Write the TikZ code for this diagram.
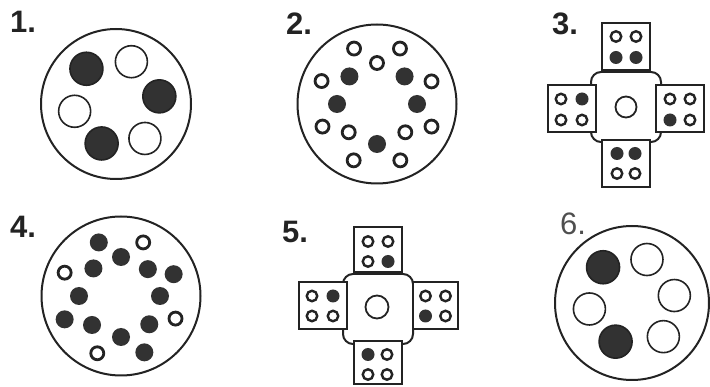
\documentclass[tikz,border=0pt]{standalone}
\usepackage{fontspec}
\setmainfont{Liberation Sans}
\usetikzlibrary{positioning,calc}
\definecolor{Ink}{RGB}{35,35,35}
\definecolor{PinFill}{RGB}{50,50,50}
\tikzset{
  panellabel/.style={font=\fontsize{31}{31}\selectfont\bfseries,text=Ink,inner sep=0pt,anchor=base west},
  thinlabel/.style={font=\fontsize{31}{31}\selectfont,text=Ink!80,inner sep=0pt,anchor=base west},
  body/.style={circle,draw=Ink,line width=2pt,fill=white,inner sep=0pt},
  bigopen/.style={circle,draw=Ink,line width=1.6pt,minimum size=32pt,inner sep=0pt},
  bigfull/.style={circle,draw=Ink,fill=PinFill,line width=1.6pt,minimum size=33pt,inner sep=0pt},
  pinopen/.style={circle,draw=Ink,line width=2.8pt,minimum size=13pt,inner sep=0pt},
  pinfull/.style={circle,fill=PinFill,minimum size=18pt,inner sep=0pt},
  hub/.style={draw=Ink,line width=2pt,fill=white,rounded corners=10pt,minimum size=70pt,inner sep=0pt},
  arm/.style={draw=Ink,line width=2pt,fill=white,minimum width=48pt,minimum height=47pt,inner sep=0pt},
  armopen/.style={circle,draw=Ink,line width=2.4pt,minimum size=10.5pt,inner sep=0pt},
  armfull/.style={circle,fill=PinFill,minimum size=13pt,inner sep=0pt},
  core/.style={circle,draw=Ink,line width=1.8pt,minimum size=21pt,inner sep=0pt}
}
\begin{document}
\begin{tikzpicture}[x=1pt,y=-1pt]
\useasboundingbox (0,0) rectangle (710,387);

% labels
\node[panellabel] (lab1) at (10,33) {1.};
\node[panellabel] (lab2) at (286,35) {2.};
\node[panellabel] (lab3) at (552,35) {3.};
\node[panellabel] (lab4) at (10,238) {4.};
\node[panellabel] (lab5) at (282,243) {5.};
\node[thinlabel] (lab6) at (560,235) {6.};

% panel 1
\node[body,minimum size=150pt] (body1) at (116,104) {};
\node[bigopen] (p1a) at ($(body1)+(70:45pt)$) {};
\node[bigfull] (p1b) at ($(body1)+(10:44pt)$) {};
\node[bigfull] (p1c) at ($(body1)+(130:46pt)$) {};
\node[bigopen] (p1d) at ($(body1)+(190:42pt)$) {};
\node[bigfull] (p1e) at ($(body1)+(250:42pt)$) {};
\node[bigopen] (p1f) at ($(body1)+(310:45pt)$) {};

% panel 2
\node[body,minimum size=159pt] (body2) at (377,104) {};
\node[pinfull] (p2a) at ($(body2)+(0:40pt)$) {};   \node[pinfull] (p2b) at ($(body2)+(45:39pt)$) {};
\node[pinopen] (p2c) at ($(body2)+(90:41pt)$) {};  \node[pinfull] (p2d) at ($(body2)+(135:39pt)$) {};
\node[pinfull] (p2e) at ($(body2)+(180:40pt)$) {}; \node[pinopen] (p2f) at ($(body2)+(225:40pt)$) {};
\node[pinfull] (p2g) at ($(body2)+(270:40pt)$) {}; \node[pinopen] (p2h) at ($(body2)+(315:40pt)$) {};
\node[pinopen] (p2i) at ($(body2)+(22.5:59pt)$) {};  \node[pinopen] (p2j) at ($(body2)+(67.5:60pt)$) {};
\node[pinopen] (p2k) at ($(body2)+(112.5:60pt)$) {}; \node[pinopen] (p2l) at ($(body2)+(157.5:60pt)$) {};
\node[pinopen] (p2m) at ($(body2)+(202.5:59pt)$) {}; \node[pinopen] (p2n) at ($(body2)+(247.5:61pt)$) {};
\node[pinopen] (p2o) at ($(body2)+(292.5:61pt)$) {}; \node[pinopen] (p2p) at ($(body2)+(337.5:59pt)$) {};

% panel 3
\node[hub] (hub3) at (626,107) {};
\node[arm,above=0pt of hub3] (top3) {};
\node[arm,left=-7pt of hub3,yshift=-2pt] (left3) {};
\node[arm,right=-7pt of hub3,yshift=-2pt] (right3) {};
\node[arm,below=-4pt of hub3] (bot3) {};
\node[core] (core3) at (hub3) {};
\node[armopen] (t3a) at ($(top3)+(-10,-10)$) {};   \node[armopen] (t3b) at ($(top3)+(10,-10)$) {};
\node[armfull] (t3c) at ($(top3)+(-10,11)$) {};    \node[armfull] (t3d) at ($(top3)+(10,11)$) {};
\node[armopen] (l3a) at ($(left3)+(-11,-10)$) {};  \node[armfull] (l3b) at ($(left3)+(10,-10)$) {};
\node[armopen] (l3c) at ($(left3)+(-11,11)$) {};   \node[armopen] (l3d) at ($(left3)+(10,11)$) {};
\node[armopen] (r3a) at ($(right3)+(-10,-10)$) {}; \node[armopen] (r3b) at ($(right3)+(10,-10)$) {};
\node[armfull] (r3c) at ($(right3)+(-10,11)$) {};  \node[armopen] (r3d) at ($(right3)+(10,11)$) {};
\node[armfull] (b3a) at ($(bot3)+(-9,-10)$) {};    \node[armfull] (b3b) at ($(bot3)+(9,-10)$) {};
\node[armopen] (b3c) at ($(bot3)+(-9,10)$) {};     \node[armopen] (b3d) at ($(bot3)+(9,10)$) {};

% panel 4
\node[body,minimum size=159pt] (body4) at (121,296) {};
\node[pinfull] (p4a) at ($(body4)+(0:39pt)$) {};   \node[pinfull] (p4b) at ($(body4)+(45:38pt)$) {};
\node[pinfull] (p4c) at ($(body4)+(90:39pt)$) {};  \node[pinfull] (p4d) at ($(body4)+(135:39pt)$) {};
\node[pinfull] (p4e) at ($(body4)+(180:42pt)$) {}; \node[pinfull] (p4f) at ($(body4)+(225:41pt)$) {};
\node[pinfull] (p4g) at ($(body4)+(270:41pt)$) {}; \node[pinfull] (p4h) at ($(body4)+(315:40pt)$) {};
\node[pinfull] (p4i) at ($(body4)+(22.5:57pt)$) {};  \node[pinopen] (p4j) at ($(body4)+(67.5:58pt)$) {};
\node[pinfull] (p4k) at ($(body4)+(112.5:58pt)$) {}; \node[pinopen] (p4l) at ($(body4)+(157.5:61pt)$) {};
\node[pinfull] (p4m) at ($(body4)+(202.5:61pt)$) {}; \node[pinopen] (p4n) at ($(body4)+(247.5:62pt)$) {};
\node[pinfull] (p4o) at ($(body4)+(292.5:61pt)$) {}; \node[pinopen] (p4p) at ($(body4)+(337.5:59pt)$) {};

% panel 5
\node[hub] (hub5) at (378,309) {};
\node[arm,above=0pt of hub5,minimum height=45pt] (top5) {};
\node[arm,left=-6pt of hub5,yshift=3pt] (left5) {};
\node[arm,right=-2pt of hub5,yshift=3pt,minimum width=45pt] (right5) {};
\node[arm,below=-5pt of hub5,minimum height=43pt] (bot5) {};
\node[core,minimum size=23pt] (core5) at ($(hub5)+(-1,-2)$) {};
\node[armopen] (t5a) at ($(top5)+(-10,-8)$) {};    \node[armopen] (t5b) at ($(top5)+(10,-8)$) {};
\node[armopen] (t5c) at ($(top5)+(-10,12)$) {};    \node[armfull] (t5d) at ($(top5)+(10,12)$) {};
\node[armopen] (l5a) at ($(left5)+(-11,-10)$) {};  \node[armfull] (l5b) at ($(left5)+(10,-10)$) {};
\node[armopen] (l5c) at ($(left5)+(-11,10)$) {};   \node[armopen] (l5d) at ($(left5)+(10,10)$) {};
\node[armopen] (r5a) at ($(right5)+(-10,-10)$) {}; \node[armopen] (r5b) at ($(right5)+(10,-10)$) {};
\node[armfull] (r5c) at ($(right5)+(-10,10)$) {};  \node[armopen] (r5d) at ($(right5)+(10,10)$) {};
\node[armfull] (b5a) at ($(bot5)+(-10,-8)$) {};    \node[armopen] (b5b) at ($(bot5)+(9,-8)$) {};
\node[armopen] (b5c) at ($(bot5)+(-10,12)$) {};    \node[armopen] (b5d) at ($(bot5)+(9,12)$) {};

% panel 6
\node[body,minimum size=154pt] (body6) at (632,303) {};
\node[bigopen] (p6a) at ($(body6)+(71:46pt)$) {};
\node[bigopen] (p6b) at ($(body6)+(10:43pt)$) {};
\node[bigfull] (p6c) at ($(body6)+(129:46pt)$) {};
\node[bigopen] (p6d) at ($(body6)+(188:43pt)$) {};
\node[bigfull] (p6e) at ($(body6)+(247:42pt)$) {};
\node[bigopen] (p6f) at ($(body6)+(313:46pt)$) {};
\end{tikzpicture}
\end{document}
